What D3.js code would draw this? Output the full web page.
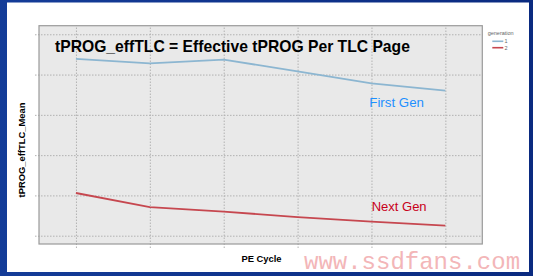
<!DOCTYPE html>
<html>
<head>
  <script src="https://d3js.org/d3.v7.min.js"></script>
  <style>
    body { margin: 0; background: #fff; }
    text { font-family: "Liberation Sans", Arial, sans-serif; }
    text.watermark { font-family: "Liberation Mono", "DejaVu Sans Mono", monospace; }
    .grid line { stroke: #b2b2b2; stroke-dasharray: 1.5,1.5; }
    .grid path { display: none; }
  </style>
</head>
<body>
<svg id="chart" width="533" height="276"></svg>
<script>
// x categories (PE cycle steps, labels hidden in the original)
const peCycles = ["c1", "c2", "c3", "c4", "c5", "c6"];
// mean effective tPROG per TLC page, arbitrary units
const firstGen = [5.39, 5.28, 5.37, 5.08, 4.78, 4.60];
const nextGen = [2.06, 1.71, 1.60, 1.46, 1.35, 1.25];
const yTicks = [1, 2, 3, 4, 5, 6];
const seriesNames = ["1", "2"];
const seriesColors = ["#8cb6d1", "#c6474f"];

const svg = d3.select("#chart");

// panel box
const panel = { left: 39, right: 482.3, top: 25.7, bottom: 244 };

const x = d3.scalePoint()
  .domain(peCycles)
  .range([panel.left, panel.right])
  .padding(0.5);

const y = d3.scaleLinear()
  .domain([0.794, 6.213])
  .range([panel.bottom, panel.top]);

// white slide area
svg.append("rect")
  .attr("x", 0).attr("y", 0)
  .attr("width", 533).attr("height", 276)
  .attr("fill", "#fff");

// plot background
svg.append("rect")
  .attr("x", panel.left).attr("y", panel.top)
  .attr("width", panel.right - panel.left)
  .attr("height", panel.bottom - panel.top)
  .attr("fill", "#e9e9e9");

// grid lines (they poke out a little below / left like ticks)
svg.append("g")
  .attr("class", "grid")
  .attr("transform", `translate(0,${panel.bottom + 4})`)
  .call(d3.axisBottom(x).tickSize(-(panel.bottom - panel.top + 4)).tickSizeOuter(0).tickFormat(""));

svg.append("g")
  .attr("class", "grid")
  .attr("transform", `translate(${panel.left - 4},0)`)
  .call(d3.axisLeft(y).tickValues(yTicks).tickSize(-(panel.right - panel.left + 4)).tickSizeOuter(0).tickFormat(""));

// panel border
svg.append("rect")
  .attr("x", panel.left).attr("y", panel.top)
  .attr("width", panel.right - panel.left)
  .attr("height", panel.bottom - panel.top)
  .attr("fill", "none")
  .attr("stroke", "#9a9a9a")
  .attr("stroke-width", 1.2);

// lines
const line = d3.line()
  .x((d, i) => x(peCycles[i]))
  .y(d => y(d));

[firstGen, nextGen].forEach((s, k) => {
  svg.append("path")
    .datum(s)
    .attr("d", line)
    .attr("fill", "none")
    .attr("stroke", seriesColors[k])
    .attr("stroke-width", 1.8);
});

// title inside the panel
const title = svg.append("text")
  .attr("x", 55)
  .attr("y", 51.7)
  .attr("font-weight", "bold")
  .attr("font-size", 15.7)
  .attr("fill", "#000")
  .text("tPROG_effTLC = Effective tPROG Per TLC Page");
const tw = title.node().getComputedTextLength();
title.attr("font-size", 15.7 * 355 / tw);

// series annotations
svg.append("text")
  .attr("x", 369.3).attr("y", 107.3)
  .attr("font-size", 13.3)
  .attr("fill", "#1e90ff")
  .text("First Gen");

svg.append("text")
  .attr("x", 371.7).attr("y", 211)
  .attr("font-size", 13)
  .attr("fill", "#c8001a")
  .text("Next Gen");

// axis titles
svg.append("text")
  .attr("transform", "translate(25,150) rotate(-90)")
  .attr("text-anchor", "middle")
  .attr("font-weight", "bold")
  .attr("font-size", 9.4)
  .text("tPROG_effTLC_Mean");

svg.append("text")
  .attr("x", 261.5).attr("y", 262)
  .attr("text-anchor", "middle")
  .attr("font-weight", "bold")
  .attr("font-size", 9.4)
  .text("PE Cycle");

// legend
const legend = svg.append("g");
legend.append("text")
  .attr("x", 487.7).attr("y", 35)
  .attr("font-size", 5.5)
  .attr("fill", "#666")
  .text("generation");

seriesNames.forEach((n, i) => {
  const ly = 41.3 + i * 6.4;
  legend.append("line")
    .attr("x1", 492.3).attr("x2", 503.3)
    .attr("y1", ly).attr("y2", ly)
    .attr("stroke", seriesColors[i])
    .attr("stroke-width", 1.6);
  legend.append("text")
    .attr("x", 504.5).attr("y", ly + 2)
    .attr("font-size", 5.5)
    .attr("fill", "#666")
    .text(n);
});

// blue slide frame
const defs = svg.append("defs");
const grad = defs.append("linearGradient").attr("id", "frame").attr("x1", 0).attr("x2", 1);
grad.append("stop").attr("offset", 0).attr("stop-color", "#143c98");
grad.append("stop").attr("offset", 1).attr("stop-color", "#0a2a80");

svg.append("path")
  .attr("fill-rule", "evenodd")
  .attr("fill", "url(#frame)")
  .attr("d", "M0,0H533V276H0Z M7,2.5H529V272H7Z");

// watermark
svg.append("text")
  .attr("class", "watermark")
  .attr("x", 304).attr("y", 268.5)
  .attr("font-size", 24)
  .attr("fill", "#f3b6b8")
  .text("www.ssdfans.com");
</script>
</body>
</html>
